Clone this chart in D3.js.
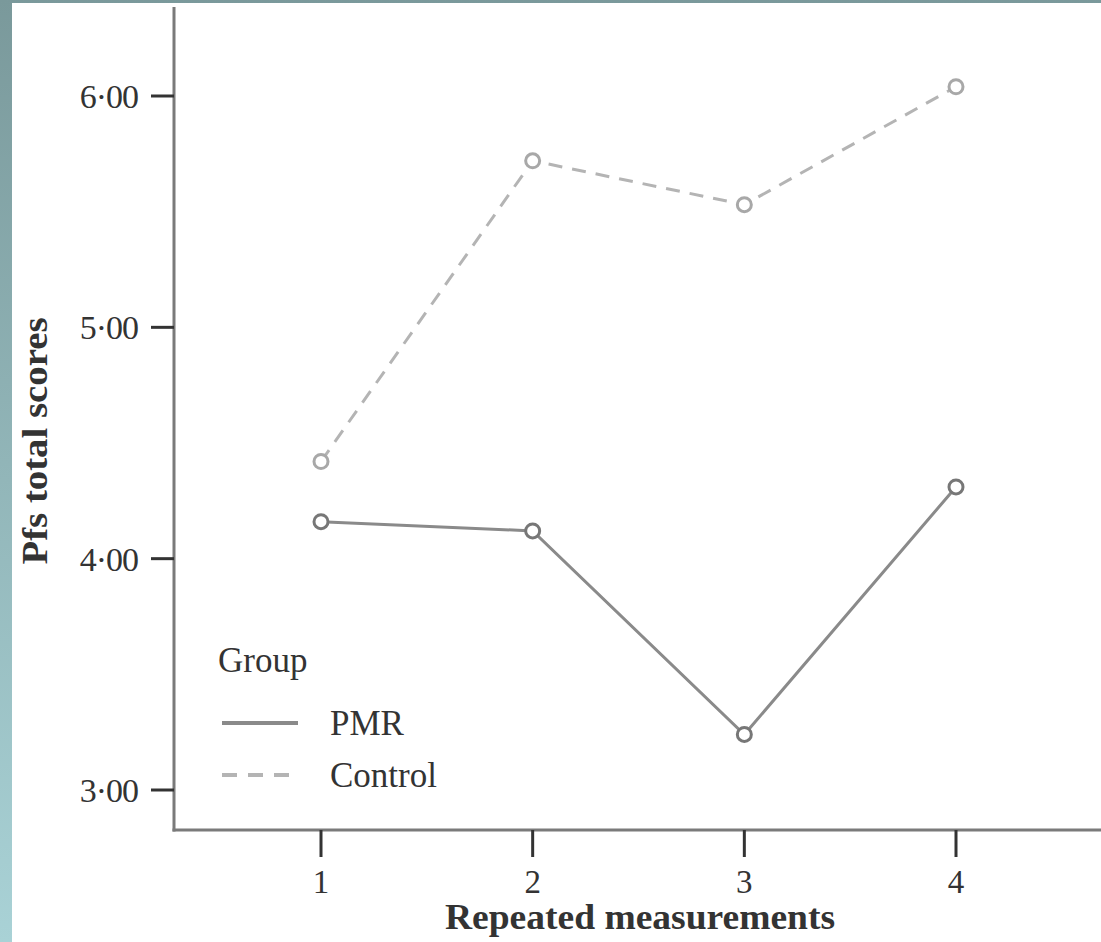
<!DOCTYPE html>
<html>
<head>
<meta charset="utf-8">
<script src="https://d3js.org/d3.v7.min.js"></script>
<style>
  body { margin: 0; background: #fff; }
  text { font-family: "Liberation Serif", "DejaVu Serif", serif; fill: #333; }
</style>
</head>
<body>
<div id="chart"></div>
<script>
// data
var measurements = [1, 2, 3, 4];
var pmrScores = [4.16, 4.12, 3.24, 4.31];
var controlScores = [4.42, 5.72, 5.53, 6.04];
var yTicks = [3, 4, 5, 6];
var groups = ["PMR", "Control"];

var W = 1101, H = 942;
var svg = d3.select("#chart").append("svg").attr("width", W).attr("height", H);

// teal frame on the left and top
var grad = svg.append("defs").append("linearGradient")
    .attr("id", "frame").attr("x1", 0).attr("y1", 0).attr("x2", 0).attr("y2", 1);
grad.append("stop").attr("offset", "0%").attr("stop-color", "#7a999b");
grad.append("stop").attr("offset", "100%").attr("stop-color", "#a9d2d6");
svg.append("rect").attr("width", W).attr("height", H).attr("fill", "url(#frame)");
svg.append("rect").attr("x", 12).attr("y", 3).attr("width", W - 12).attr("height", H - 3).attr("fill", "#fff");

var axisX = 174, axisY = 830;
var x = d3.scaleLinear().domain([1, 4]).range([321, 956]);
var y = d3.scaleLinear().domain([3, 6]).range([790, 96]);

// axis lines
svg.append("line").attr("x1", axisX).attr("x2", axisX).attr("y1", 7).attr("y2", axisY + 1.5)
    .attr("stroke", "#7a7a7a").attr("stroke-width", 3);
svg.append("line").attr("x1", axisX - 1.5).attr("x2", W).attr("y1", axisY).attr("y2", axisY)
    .attr("stroke", "#7a7a7a").attr("stroke-width", 3);

// y ticks
var yt = svg.append("g").selectAll("g").data(yTicks).enter().append("g");
yt.append("line").attr("x1", 151).attr("x2", axisX).attr("y1", d => y(d)).attr("y2", d => y(d))
    .attr("stroke", "#333").attr("stroke-width", 3);
yt.append("text").attr("x", 138).attr("y", d => y(d) + 12).attr("text-anchor", "end")
    .attr("font-size", 34).attr("letter-spacing", -1)
    .text(d => d3.format(".2f")(d).replace(".", "·"));

// x ticks
var xt = svg.append("g").selectAll("g").data(measurements).enter().append("g");
xt.append("line").attr("x1", d => x(d)).attr("x2", d => x(d)).attr("y1", axisY).attr("y2", 857)
    .attr("stroke", "#333").attr("stroke-width", 3);
xt.append("text").attr("x", d => x(d)).attr("y", 893).attr("text-anchor", "middle")
    .attr("font-size", 33).text(d => d);

// axis titles
svg.append("text").attr("x", 640).attr("y", 929).attr("text-anchor", "middle")
    .attr("font-size", 35).attr("font-weight", "bold").attr("fill", "#222")
    .attr("textLength", 390).attr("lengthAdjust", "spacingAndGlyphs")
    .text("Repeated measurements");
svg.append("text").attr("transform", "translate(47,441) rotate(-90)").attr("text-anchor", "middle")
    .attr("font-size", 36).attr("font-weight", "bold").attr("fill", "#222")
    .attr("textLength", 247).attr("lengthAdjust", "spacingAndGlyphs")
    .text("Pfs total scores");

// lines
var line = d3.line().x((d, i) => x(measurements[i])).y(d => y(d));
var series = [
  { name: groups[0], values: pmrScores, color: "#8a8a8a", marker: "#777", dash: null },
  { name: groups[1], values: controlScores, color: "#b4b4b4", marker: "#a8a8a8", dash: "14,10" }
];
series.forEach(function (s) {
  svg.append("path").attr("d", line(s.values)).attr("fill", "none")
      .attr("stroke", s.color).attr("stroke-width", 3).attr("stroke-dasharray", s.dash);
  svg.append("g").selectAll("circle").data(s.values).enter().append("circle")
      .attr("cx", (d, i) => x(measurements[i])).attr("cy", d => y(d)).attr("r", 7)
      .attr("fill", "#fff").attr("stroke", s.marker).attr("stroke-width", 3);
});

// legend
var lg = svg.append("g");
lg.append("text").attr("x", 218).attr("y", 672).attr("font-size", 35).text("Group");
series.forEach(function (s, i) {
  var ly = 723 + i * 52;
  lg.append("line").attr("x1", 222).attr("x2", 298).attr("y1", ly).attr("y2", ly)
      .attr("stroke", s.color).attr("stroke-width", 4).attr("stroke-dasharray", s.dash ? "15,11" : null);
  lg.append("text").attr("x", 330).attr("y", ly + 12).attr("font-size", 35).text(s.name);
});
</script>
</body>
</html>
